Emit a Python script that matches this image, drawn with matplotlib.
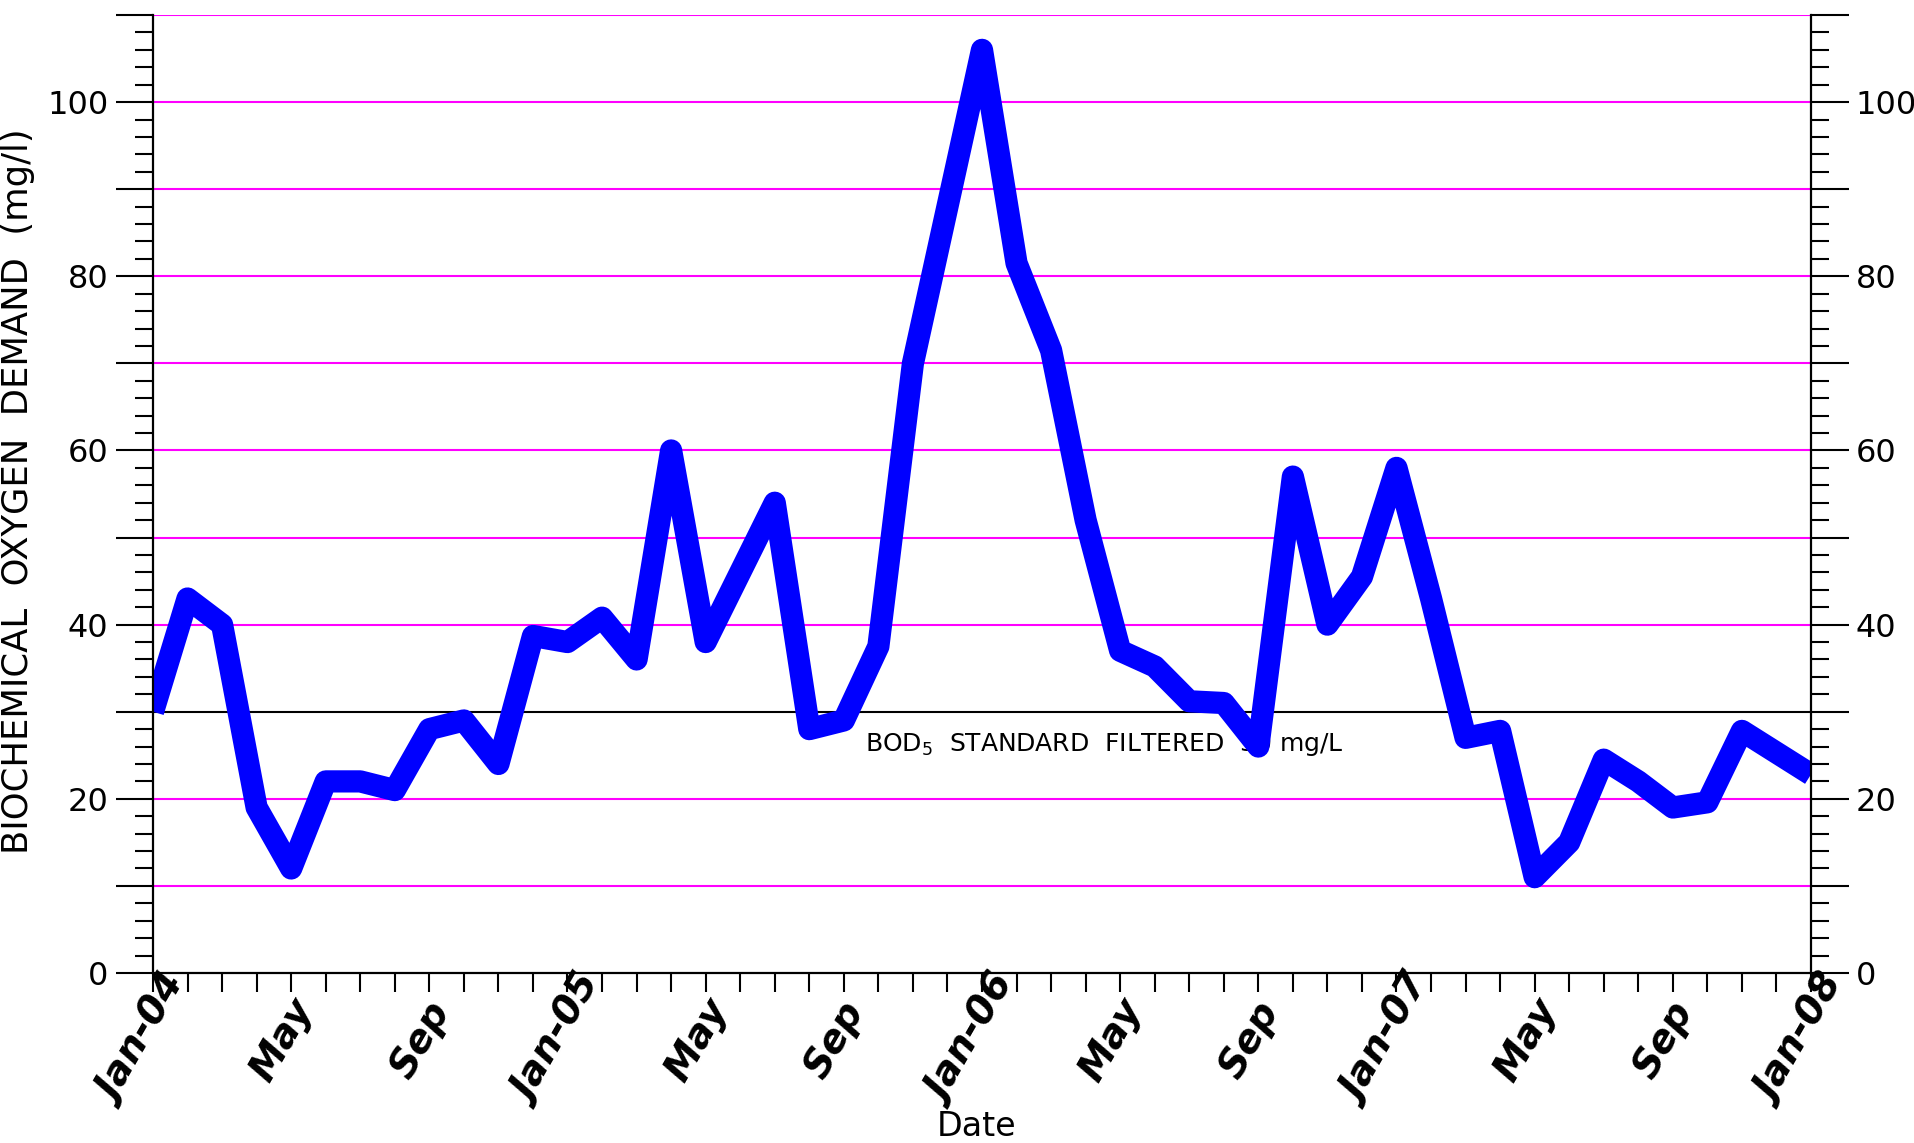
import matplotlib
matplotlib.use("Agg")
import matplotlib.pyplot as plt
import numpy as np
from matplotlib.ticker import MultipleLocator, FixedLocator
from matplotlib.transforms import ScaledTranslation

# ---- data ----
months = ["Jan-04","Feb-04","Mar-04","Apr-04","May-04","Jun-04","Jul-04","Aug-04","Sep-04","Oct-04","Nov-04","Dec-04",
          "Jan-05","Feb-05","Mar-05","Apr-05","May-05","Jun-05","Jul-05","Aug-05","Sep-05","Oct-05","Nov-05","Dec-05",
          "Jan-06","Feb-06","Mar-06","Apr-06","May-06","Jun-06","Jul-06","Aug-06","Sep-06","Oct-06","Nov-06","Dec-06",
          "Jan-07","Feb-07","Mar-07","Apr-07","May-07","Jun-07","Jul-07","Aug-07","Sep-07","Oct-07","Nov-07","Dec-07",
          "Jan-08"]
bod = [30, 43, 40, 19, 12, 22, 22, 21, 28, 29, 24, 38.7,
       38, 40.8, 36, 60, 38, 46, 54, 28, 29, 37.5, 70, 88,
       106, 81.5, 71.5, 52, 37, 35.2, 31.2, 31, 26, 57, 40, 45.5,
       58, 43, 27, 27.8, 11, 15, 24.5, 22, 19, 19.6, 27.8, 25.3,
       22.8]
xtick_labels = ["Jan-04","May","Sep","Jan-05","May","Sep","Jan-06","May","Sep","Jan-07","May","Sep","Jan-08"]
ytick_values = [0, 10, 20, 30, 40, 50, 60, 70, 80, 90, 100, 110]
ytick_labels = ["0", "", "20", "", "40", "", "60", "", "80", "", "100", ""]
grid_values = [10, 20, 40, 50, 60, 70, 80, 90, 100, 110]
standard = 30
standard_text = "BOD$_5$  STANDARD  FILTERED  30 mg/L"

plt.rcParams['font.family'] = ['DejaVu Sans']
plt.rcParams['mathtext.fontset'] = 'dejavusans'

W, H = 1915, 1143
fig = plt.figure(figsize=(W/100, H/100), dpi=100)
ax = fig.add_axes([153/W, 1-973/H, (1811-153)/W, (973-15)/H])

x = np.arange(len(bod))

for g in grid_values:
    ax.axhline(g, color="#FF00FF", lw=1.5, zorder=1)
ax.axhline(standard, color="black", lw=1.5, zorder=1)

ax.text(20.6, 26.2, standard_text, fontsize=18, va="center", ha="left", zorder=2)

ax.plot(x, bod, color="#0000FF", lw=16, solid_joinstyle="round", solid_capstyle="butt", zorder=3)

ax.set_xlim(0, len(bod) - 1)
ax.set_ylim(0, 110)

ax.spines["top"].set_visible(False)
for s in ["left", "right", "bottom"]:
    ax.spines[s].set_linewidth(1.6)
    ax.spines[s].set_zorder(4)

ax.yaxis.set_major_locator(FixedLocator(ytick_values))
ax.set_yticklabels(ytick_labels)
ax.yaxis.set_minor_locator(MultipleLocator(2))
ax.tick_params(axis="y", which="major", direction="out", length=27, width=1.5,
               left=True, right=True, labelleft=True, labelright=True, labelsize=23, pad=5)
ax.tick_params(axis="y", which="minor", direction="out", length=13, width=1.5,
               left=True, right=True)

ax.xaxis.set_major_locator(FixedLocator(np.arange(0, len(bod), 4)))
ax.set_xticklabels(xtick_labels)
ax.xaxis.set_minor_locator(MultipleLocator(1))
ax.tick_params(axis="x", which="both", direction="out", length=13.5, width=1.5, pad=35)
for lab in ax.get_xticklabels():
    lab.set_rotation(60)
    lab.set_rotation_mode("default")
    lab.set_ha("center")
    lab.set_va("center")
    lab.set_fontsize(28)
    lab.set_fontweight("bold")
    lab.set_fontstyle("italic")
    lab.set_transform(lab.get_transform() + ScaledTranslation(-0.09, 0, fig.dpi_scale_trans))

fig.text(18/W, 1-491/H, "BIOCHEMICAL  OXYGEN  DEMAND  (mg/l)", fontsize=25.5,
         rotation=90, ha="center", va="center")
fig.text(977/W, 1-1126/H, "Date", fontsize=24, ha="center", va="center")

fig.savefig("out.png", dpi=100)
